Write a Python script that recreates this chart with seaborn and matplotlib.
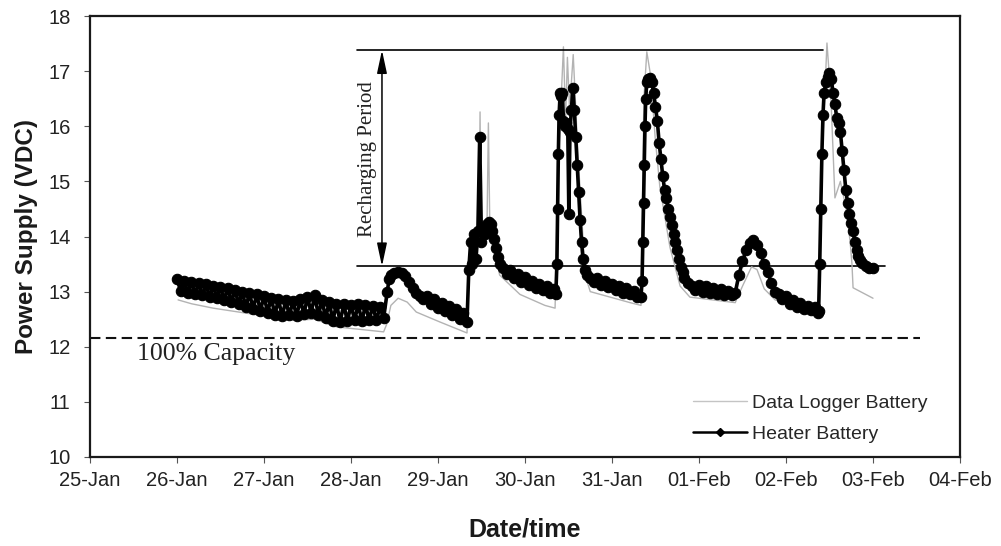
import matplotlib
matplotlib.use("Agg")
import matplotlib.pyplot as plt
import matplotlib.dates as mdates
from matplotlib.lines import Line2D
import pandas as pd
import seaborn as sns

# ---------------------------------------------------------------------------
# Battery voltages, hours after 26-Jan 00:00
# ---------------------------------------------------------------------------
series_start = pd.Timestamp("2007-01-26 00:00")

# Heater battery: slow discharge 26-28 Jan (hourly readings)
heater_hours_1 = list(range(0, 58))
heater_volts_1 = [13.22, 13.02, 13.19, 12.98, 13.17, 12.96, 13.15, 12.93, 13.13, 12.90,
                  13.11, 12.88, 13.09, 12.85, 13.06, 12.81, 13.03, 12.77, 13.00, 12.72,
                  12.97, 12.69, 12.95, 12.65, 12.92, 12.62, 12.89, 12.58, 12.86, 12.55,
                  12.84, 12.57, 12.83, 12.55, 12.86, 12.59, 12.90, 12.62, 12.93, 12.57,
                  12.85, 12.52, 12.81, 12.47, 12.78, 12.45, 12.77, 12.46, 12.76, 12.48,
                  12.77, 12.46, 12.76, 12.48, 12.74, 12.48, 12.72, 12.52]

# Small hump on 28 Jan and decay into 29 Jan
heater_hours_2 = [58, 58.5, 59, 60, 61, 62, 63, 64, 65, 66, 67, 68, 69, 70, 71, 72,
                  73, 74, 75, 76, 77, 78, 79, 80]
heater_volts_2 = [13.00, 13.22, 13.30, 13.33, 13.36, 13.33, 13.28, 13.18, 13.06, 12.98,
                  12.92, 12.86, 12.92, 12.78, 12.86, 12.70, 12.80, 12.64, 12.74, 12.58,
                  12.68, 12.50, 12.62, 12.45]

# First recharge, 29 Jan
heater_hours_3 = [80.5, 81, 81.5, 82, 82.5, 83, 83.5, 84, 84.5, 85, 85.5, 86, 86.5, 87,
                  87.5, 88, 88.5, 89, 90, 91, 92, 93, 94, 95, 96, 97, 98, 99, 100, 101,
                  102, 103, 104, 104.5]
heater_volts_3 = [13.40, 13.90, 13.50, 14.05, 13.60, 14.10, 15.80, 13.90, 14.15, 14.05,
                  14.22, 14.26, 14.22, 14.10, 13.95, 13.80, 13.62, 13.50, 13.42, 13.32,
                  13.40, 13.25, 13.32, 13.17, 13.26, 13.12, 13.20, 13.07, 13.14, 13.03,
                  13.10, 12.98, 13.04, 12.95]

# Second recharge, 30 Jan
heater_hours_4 = [104.8, 105.0, 105.2, 105.4, 105.7, 106.0, 106.3, 106.6, 107.0, 107.4,
                  107.8, 108.1, 108.4, 108.8, 109.2, 109.6, 110.0, 110.4, 110.8, 111.2,
                  111.6, 112.0, 112.5, 113, 114, 115, 116, 117, 118, 119, 120, 121, 122,
                  123, 124, 125, 126, 127, 128]
heater_volts_4 = [13.50, 14.50, 15.50, 16.20, 16.60, 16.55, 16.60, 16.10, 16.00, 16.05,
                  15.95, 14.40, 15.90, 16.30, 16.70, 16.30, 15.80, 15.30, 14.80, 14.30,
                  13.90, 13.60, 13.40, 13.30, 13.25, 13.18, 13.24, 13.12, 13.20, 13.08,
                  13.14, 13.03, 13.10, 12.98, 13.07, 12.96, 13.02, 12.90, 12.90]

# Third recharge 31 Jan, small bump 01 Feb
heater_hours_5 = [128.3, 128.5, 128.7, 128.9, 129.1, 129.3, 129.6, 130, 130.5, 131, 131.5,
                  132, 132.5, 133, 133.5, 134, 134.5, 135, 135.5, 136, 136.5, 137, 137.5,
                  138, 138.5, 139, 139.5, 140, 141, 142, 143, 144, 145, 146, 147, 148, 149,
                  150, 151, 152, 153, 154, 155, 156, 157, 158, 159, 160, 161, 162, 163, 164,
                  165, 166, 167, 168, 169, 170, 171, 172, 173, 174, 175, 176, 176.8]
heater_volts_5 = [13.20, 13.90, 14.60, 15.30, 16.00, 16.50, 16.80, 16.85, 16.87, 16.80,
                  16.60, 16.35, 16.10, 15.70, 15.40, 15.10, 14.85, 14.70, 14.50, 14.35,
                  14.20, 14.05, 13.90, 13.75, 13.60, 13.45, 13.35, 13.25, 13.15, 13.10,
                  13.03, 13.12, 13.00, 13.10, 12.98, 13.07, 12.96, 13.04, 12.93, 13.02,
                  12.93, 12.98, 13.30, 13.55, 13.75, 13.88, 13.93, 13.85, 13.70, 13.50,
                  13.35, 13.15, 13.00, 12.95, 12.86, 12.92, 12.78, 12.84, 12.73, 12.80,
                  12.68, 12.74, 12.66, 12.72, 12.62]

# Fourth recharge, 02 Feb
heater_hours_6 = [177, 177.3, 177.6, 177.9, 178.2, 178.5, 179, 179.5, 180, 180.5, 181,
                  181.5, 182, 182.5, 183, 183.5, 184, 184.5, 185, 185.5, 186, 186.5, 187,
                  187.5, 188, 188.5, 189, 190, 191, 192]
heater_volts_6 = [12.65, 13.50, 14.50, 15.50, 16.20, 16.60, 16.80, 16.90, 16.96, 16.85,
                  16.60, 16.40, 16.15, 16.05, 15.90, 15.55, 15.20, 14.85, 14.60, 14.40,
                  14.25, 14.10, 13.90, 13.75, 13.65, 13.57, 13.52, 13.47, 13.43, 13.42]

# Data logger battery
logger_hours = [0.3, 4, 10, 20, 32, 38, 44, 57, 57.8, 59, 61, 63.5, 66, 72.5, 80, 80.5,
                81.5, 82.5, 83.3, 83.6, 83.9, 85.5, 85.9, 86.3, 87.5, 89, 94.6, 101.5,
                104.3, 105, 106.6, 107.2, 107.7, 108.3, 109.3, 110.6, 112.6, 114, 125,
                128, 128.8, 129.6, 130.7, 131.9, 133.2, 136, 138.8, 141.5, 154, 156,
                158.5, 160, 162, 165, 176, 177, 178, 179.3, 180.4, 181.5, 183, 184.6,
                185.7, 186.2, 186.5, 192]
logger_volts = [12.85, 12.78, 12.70, 12.60, 12.48, 12.50, 12.36, 12.27, 12.40, 12.75,
                12.88, 12.81, 12.63, 12.45, 12.25, 13.30, 13.70, 13.90, 14.00, 16.26,
                14.00, 14.10, 16.06, 14.15, 13.80, 13.30, 12.95, 12.75, 12.70, 15.00,
                17.44, 16.10, 17.25, 16.30, 17.30, 15.50, 13.30, 13.00, 12.80, 12.75,
                16.50, 17.35, 16.90, 15.80, 14.90, 13.80, 13.10, 12.90, 12.80, 13.10,
                13.45, 13.40, 13.05, 12.85, 12.62, 12.60, 15.50, 17.51, 16.50, 14.70,
                15.00, 14.50, 13.90, 13.50, 13.07, 12.88]

# Reference levels
capacity_level = 12.15
recharge_low = 13.46
recharge_high = 17.38

tick_dates = pd.date_range("2007-01-25", "2007-02-04", freq="D")

# ---------------------------------------------------------------------------
heater_hours = (heater_hours_1 + heater_hours_2 + heater_hours_3 + heater_hours_4
                + heater_hours_5 + heater_hours_6)
heater_volts = (heater_volts_1 + heater_volts_2 + heater_volts_3 + heater_volts_4
                + heater_volts_5 + heater_volts_6)

heater = pd.DataFrame({
    "time": series_start + pd.to_timedelta(heater_hours, unit="h"),
    "volts": heater_volts,
})
logger = pd.DataFrame({
    "time": series_start + pd.to_timedelta(logger_hours, unit="h"),
    "volts": logger_volts,
})

sns.set_style("ticks")
plt.rcParams["font.family"] = ["Liberation Sans", "DejaVu Sans"]

fig = plt.figure(figsize=(10.01, 5.46), dpi=100)
ax = fig.add_axes([90 / 1001, 1 - 457 / 546, 870 / 1001, 441 / 546])

sns.lineplot(data=logger, x="time", y="volts", ax=ax, color="#b3b3b3", lw=1.0,
             estimator=None, sort=False, zorder=2)
sns.lineplot(data=heater, x="time", y="volts", ax=ax, color="black", lw=2.6,
             marker="o", markersize=7.5, markeredgewidth=0.8, markeredgecolor="black",
             estimator=None, sort=False, zorder=3)

day = pd.Timedelta(days=1)
x0 = pd.Timestamp("2007-01-25")

# 100 % capacity line
ax.plot([x0, x0 + 9.54 * day], [capacity_level, capacity_level], color="#111111",
        lw=1.5, dashes=(5, 2.6), zorder=1)
ax.text(x0 + 0.54 * day, 11.87, "100% Capacity", family="Liberation Serif",
        fontsize=18.5, ha="left", va="center", color="#222222")

# Recharging-period bracket
ax.plot([x0 + 3.069 * day, x0 + 8.425 * day], [recharge_high, recharge_high],
        color="black", lw=1.2, zorder=4)
ax.plot([x0 + 3.069 * day, x0 + 9.14 * day], [recharge_low, recharge_low],
        color="black", lw=1.2, zorder=1)
ax.annotate("", xy=(x0 + 3.356 * day, recharge_high), xytext=(x0 + 3.356 * day, recharge_low),
            arrowprops=dict(arrowstyle="<|-|>,head_length=0.7,head_width=0.15",
                            color="black", lw=1.1, shrinkA=0, shrinkB=0,
                            mutation_scale=20))
ax.text(x0 + 3.184 * day, 15.41, "Recharging Period", family="Liberation Serif",
        fontsize=15, rotation=90, ha="center", va="center", color="#222222")

# Axes
ax.set_xlim(tick_dates[0], tick_dates[-1])
ax.set_ylim(10, 18)
ax.set_yticks(range(10, 19))
ax.set_xticks(tick_dates)
ax.xaxis.set_major_formatter(mdates.DateFormatter("%d-%b"))
ax.tick_params(axis="both", labelsize=14.5, length=4, width=0.8, colors="#555555",
               labelcolor="#222222")
ax.tick_params(axis="x", pad=6)
ax.tick_params(axis="y", pad=10)
for side in ["left", "right", "top", "bottom"]:
    ax.spines[side].set_linewidth(1.6)
    ax.spines[side].set_color("#1a1a1a")
    ax.spines[side].set_visible(True)

ax.set_xlabel("Date/time", fontsize=18, fontweight="bold", labelpad=20, color="#1a1a1a")
ax.set_ylabel("Power Supply (VDC)", fontsize=17.5, fontweight="bold", labelpad=7,
              color="#1a1a1a")

handles = [
    Line2D([], [], color="#c4c4c4", lw=1.0),
    Line2D([], [], color="black", lw=1.8, marker="D", markersize=4),
]
ax.legend(handles, ["Data Logger Battery", "Heater Battery"], loc="upper left",
          bbox_to_anchor=((693 - 90) / 870, 1 - (394 - 16) / 441), frameon=False,
          fontsize=14, handlelength=2.8, handletextpad=0.25, labelspacing=0.72,
          borderpad=0, borderaxespad=0)

fig.savefig("out.png", dpi=100, facecolor="white")
